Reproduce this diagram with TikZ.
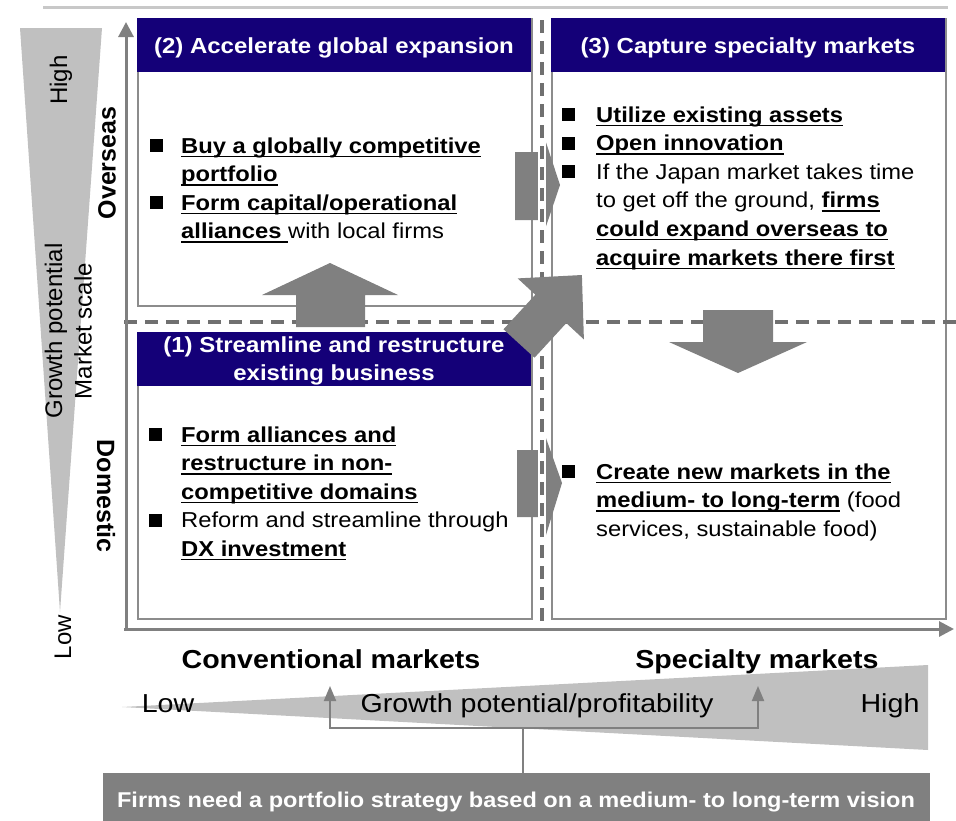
\documentclass[tikz,border=0pt]{standalone}
\usepackage{fontspec}
\setmainfont{Liberation Sans}[FakeStretch=1.1]
\newfontfamily\vfont{Liberation Sans}
\usetikzlibrary{arrows.meta}
\definecolor{hdrblue}{RGB}{20,0,120}
\definecolor{arrgray}{RGB}{128,128,128}
\definecolor{bordergray}{RGB}{140,140,140}
\definecolor{wedgegray}{RGB}{192,192,192}
\definecolor{dashgray}{RGB}{112,112,112}
\definecolor{toplinegray}{RGB}{200,200,200}
\newsavebox\ulbox
\newcommand\myul[1]{\sbox\ulbox{\bfseries #1}\rlap{\rule[-4pt]{\wd\ulbox}{1.4pt}}\usebox\ulbox}
\newcommand\bul[1]{\makebox[#1][l]{\rule[1pt]{13pt}{13pt}}}
\begin{document}
\begin{tikzpicture}[x=1pt,y=-1pt,
  boxst/.style={draw=bordergray,line width=2pt,fill=white,inner sep=0pt,anchor=north west,minimum width=394pt},
  hdrst/.style={fill=hdrblue,inner sep=0pt,anchor=north west,minimum width=394pt,minimum height=54pt},
  hdrtxt/.style={text=white,font=\bfseries\fontsize{21.8}{28.8}\selectfont,inner sep=0pt,anchor=base},
  bodytxt/.style={font=\fontsize{21.6}{28.6}\selectfont,inner sep=0pt,anchor=base west},
  blockarrow/.style={fill=arrgray},
  dashln/.style={draw=dashgray,line width=3.5pt,dash pattern=on 13pt off 8pt},
  axisln/.style={draw=arrgray,line width=3pt,-{Triangle[length=15pt,width=15pt]}},
  thinarr/.style={draw=arrgray,line width=2pt,-{Triangle[length=15pt,width=12pt]}},
  vlab/.style={font=\vfont\fontsize{24}{24}\selectfont,inner sep=0pt},
  vbold/.style={font=\vfont\bfseries\fontsize{25}{25}\selectfont,inner sep=0pt},
  botlab/.style={font=\fontsize{26}{26}\selectfont,inner sep=0pt,anchor=base},
]
\useasboundingbox (0,0) rectangle (956,820);

% top rule
\coordinate (tl) at (43,7);
\coordinate (tr) at (948,7);
\draw[toplinegray,line width=3pt] (tl) -- (tr);

% wedges
\fill[wedgegray] (20,28) -- (102,28) -- (60,612) -- cycle;
\fill[wedgegray] (122,707) -- (928,665) -- (928,750) -- cycle;

% boxes
\node[boxst,minimum height=287pt] (box2) at (137,18) {};
\node[boxst,minimum height=600pt] (box3) at (551,18) {};
\node[boxst,minimum height=286pt] (box1) at (137,332) {};
\node[hdrst] (hdr2) at (137,18) {};
\node[hdrst] (hdr3) at (551,18) {};
\node[hdrst] (hdr1) at (137,332) {};

% header texts
\node[hdrtxt] (h2t) at (334,53) {(2) Accelerate global expansion};
\node[hdrtxt] (h3t) at (748,53) {(3) Capture specialty markets};
\node[hdrtxt] (h1t) at (334,352) {\begin{tabular}[t]{@{}c@{}}(1) Streamline and restructure\\ existing business\end{tabular}};

% body texts
\node[bodytxt] (t2) at (150,153) {\begin{tabular}[t]{@{}l@{}l@{}}
\bul{31pt} & \myul{Buy a globally competitive}\\
 & \myul{portfolio}\\
\bul{31pt} & \myul{Form capital/operational}\\
 & \myul{alliances\ }with local firms
\end{tabular}};
\node[bodytxt] (t3) at (562,122) {\begin{tabular}[t]{@{}l@{}l@{}}
\bul{34pt} & \myul{Utilize existing assets}\\
\bul{34pt} & \myul{Open innovation}\\
\bul{34pt} & If the Japan market takes time\\
 & to get off the ground, \myul{firms}\\
 & \myul{could expand overseas to}\\
 & \myul{acquire markets there first}
\end{tabular}};
\node[bodytxt] (t1) at (149,442) {\begin{tabular}[t]{@{}l@{}l@{}}
\bul{32pt} & \myul{Form alliances and}\\
 & \myul{restructure in non-}\\
 & \myul{competitive domains}\\
\bul{32pt} & Reform and streamline through\\
 & \myul{DX investment}
\end{tabular}};
\node[bodytxt] (t4) at (562,479) {\begin{tabular}[t]{@{}l@{}l@{}}
\bul{34pt} & \myul{Create new markets in the}\\
 & \myul{medium- to long-term} (food\\
 & services, sustainable food)
\end{tabular}};

% horizontal dashed divider
\coordinate (hdL) at (124,322);
\coordinate (hdR) at (956,322);
\draw[dashln] (hdL) -- (hdR);

% right block arrows
\fill[blockarrow] (515,152) -- (538,152) -- (538,118) -- (560,185) -- (538,250) -- (538,220) -- (515,220) -- cycle;
\fill[blockarrow] (517,450) -- (542,450) -- (542,427) -- (562,483) -- (542,548) -- (542,517) -- (517,517) -- cycle;

% vertical dashed divider with white casing
\coordinate (vdT) at (542,20);
\coordinate (vdB) at (542,629);
\draw[white,line width=8pt] (542,18) -- (542,617);
\draw[dashln] (vdT) -- (vdB);

% up and down block arrows
\fill[blockarrow] (296,327) -- (296,295) -- (262,295) -- (330,263) -- (398,295) -- (365,295) -- (365,327) -- cycle;
\fill[blockarrow] (703,310) -- (773,310) -- (773,342) -- (807,342) -- (738,373) -- (669,342) -- (703,342) -- cycle;

% diagonal block arrow
\fill[blockarrow] (503.5,329.3) -- (535.3,294.7) -- (517.7,278.4) -- (581.9,275) -- (583.9,339.4) -- (566.3,323.1) -- (534.5,357.7) -- cycle;

% axes
\coordinate (yaxB) at (126,631);
\coordinate (yaxT) at (126,22);
\coordinate (xaxL) at (124,629);
\coordinate (xaxR) at (954,629);
\draw[axisln] (yaxB) -- (yaxT);
\draw[axisln] (xaxL) -- (xaxR);

% left labels
\node[vlab,rotate=90] (lhigh) at (61,80) {High};
\node[vlab,rotate=90] (lgrowth) at (56,331) {Growth potential};
\node[vlab,rotate=90] (lmarket) at (83,331) {Market scale};
\node[vlab,rotate=90] (llow) at (63,637) {Low};
\node[vbold,rotate=90] (over) at (107,163) {Overseas};
\node[vbold,rotate=-90] (dom) at (106,496) {Domestic};

% bottom labels
\node[botlab,font=\bfseries\fontsize{26}{26}\selectfont] (conv) at (331,668) {Conventional markets};
\node[botlab,font=\bfseries\fontsize{26}{26}\selectfont] (spec) at (757,668) {Specialty markets};
\node[botlab] (blow) at (168,712) {Low};
\node[botlab] (gpp) at (537,712) {Growth potential/profitability};
\node[botlab] (bhigh) at (890,712) {High};

% bottom band
\node[fill=arrgray,inner sep=0pt,anchor=north west,minimum width=827pt,minimum height=48pt] (band) at (103,773) {};
\node[text=white,font=\bfseries\fontsize{21.4}{21.4}\selectfont,inner sep=0pt,anchor=base] (bandtxt) at (516,807) {Firms need a portfolio strategy based on a medium- to long-term vision};

% bracket connectors
\coordinate (bm) at (523,728);
\coordinate (tipL) at (330,686);
\coordinate (tipR) at (758,686);
\draw[draw=arrgray,line width=2pt] (band.north -| bm) -- (bm);
\draw[thinarr] (bm) -| (tipL);
\draw[thinarr] (bm) -| (tipR);
\end{tikzpicture}
\end{document}
